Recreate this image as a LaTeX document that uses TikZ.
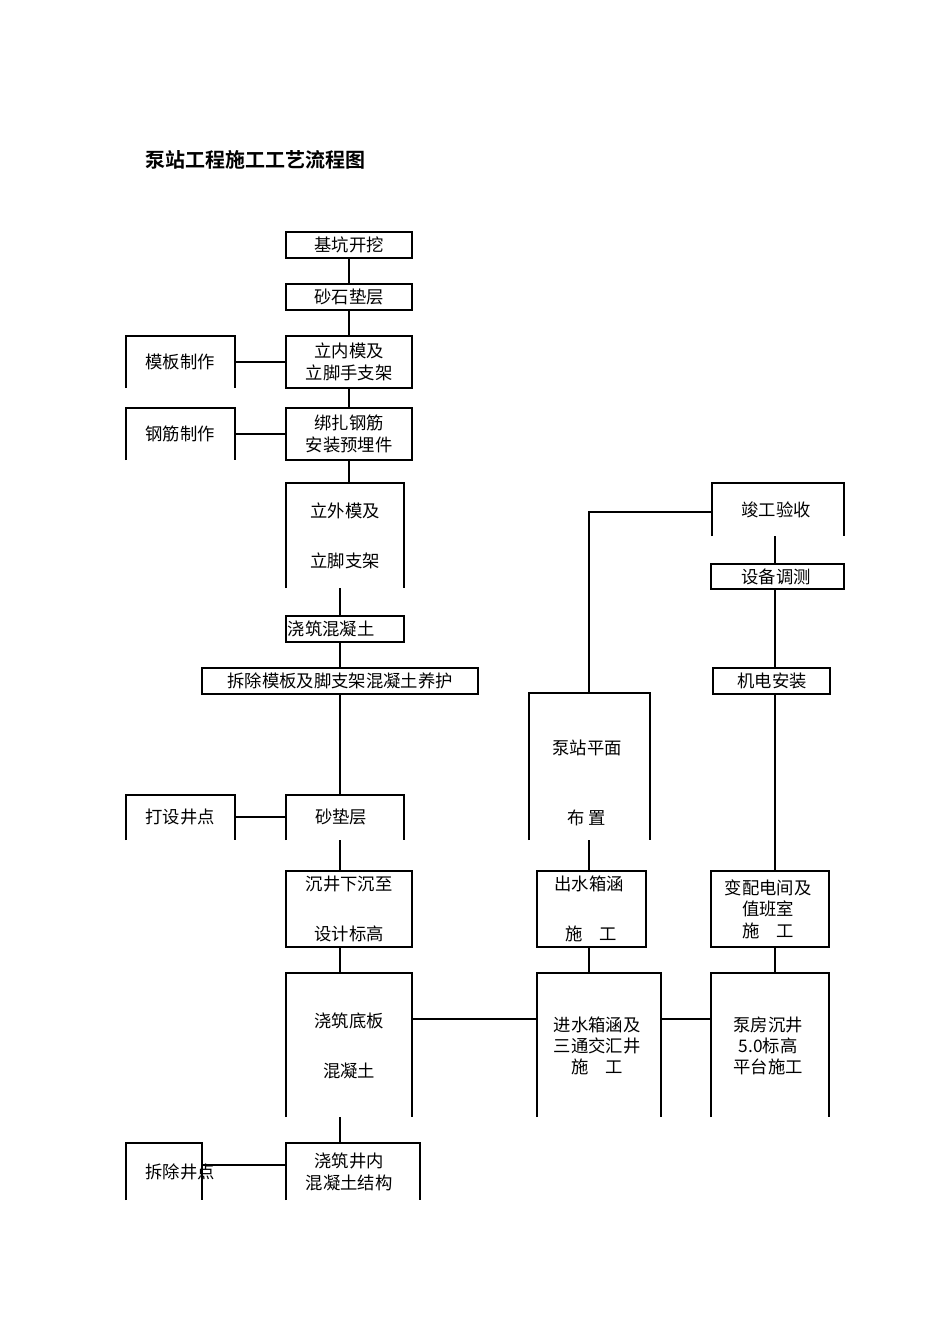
\documentclass[tikz,border=0pt]{standalone}
\usepackage{fontspec}
\setmainfont{Liberation Serif}
\newfontfamily\cjk{Noto Sans CJK SC}
\newfontfamily\cjkb{Noto Sans CJK SC Bold}
\newcommand\myopenbox[4]{\draw (#1,#4)--(#1,#2)--(#3,#2)--(#3,#4);}
\newcommand\myclosedbox[4]{\draw (#1,#2) rectangle (#3,#4);}
\tikzset{lbl/.style={font=\cjk\fontsize{13}{15}\selectfont,inner sep=0pt,align=center},
ln/.style={line width=0.8pt}}
\begin{document}
\begin{tikzpicture}[x=0.75pt,y=-0.75pt,line width=0.8pt]
\useasboundingbox (0,0) rectangle (950,1344);
\node[anchor=west,font=\cjkb\fontsize{15}{17}\selectfont,inner sep=0pt] (title) at (145,160) {泵站工程施工工艺流程图};
% closed boxes
\myclosedbox{286}{232}{412}{258}
\myclosedbox{286}{284}{412}{310}
\myclosedbox{286}{336}{412}{388}
\myclosedbox{286}{408}{412}{460}
\myclosedbox{286}{616}{404}{642}
\myclosedbox{202}{668}{478}{694}
\myclosedbox{286}{871}{412}{947}
\myclosedbox{537}{871}{646}{947}
\myclosedbox{711}{871}{829}{947}
\myclosedbox{711}{564}{844}{589}
\myclosedbox{713}{668}{830}{694}
% open boxes
\myopenbox{126}{336}{235}{388}
\myopenbox{126}{408}{235}{460}
\myopenbox{286}{483}{404}{588}
\myopenbox{126}{795}{235}{840}
\myopenbox{286}{795}{404}{840}
\myopenbox{529}{693}{650}{840}
\myopenbox{712}{483}{844}{536}
\myopenbox{286}{973}{412}{1117}
\myopenbox{537}{973}{661}{1117}
\myopenbox{711}{973}{829}{1117}
\myopenbox{126}{1143}{202}{1200}
\myopenbox{286}{1143}{420}{1200}
% labels
\node[lbl] (a1) at (349,245) {基坑开挖};
\node[lbl] (a2) at (349,297) {砂石垫层};
\node[lbl] (a3) at (349,362) {立内模及\\[1pt]立脚手支架};
\node[lbl] (m1) at (180,362) {模板制作};
\node[lbl] (a4) at (349,434) {绑扎钢筋\\[1pt]安装预埋件};
\node[lbl] (m2) at (180,434) {钢筋制作};
\node[lbl] (a5) at (345,511) {立外模及};
\node[lbl] (a5b) at (345,561) {立脚支架};
\node[lbl] (a6) at (331,629) {浇筑混凝土};
\node[lbl] (a7) at (340,681) {拆除模板及脚支架混凝土养护};
\node[lbl] (m3) at (180,817) {打设井点};
\node[lbl] (a8) at (341,817) {砂垫层};
\node[lbl] (a9) at (349,884) {沉井下沉至};
\node[lbl] (a9b) at (349,934) {设计标高};
\node[lbl] (a10) at (349,1021) {浇筑底板};
\node[lbl] (a10b) at (349,1071) {混凝土};
\node[lbl] (m4) at (180,1172) {拆除井点};
\node[lbl] (a11) at (349,1172) {浇筑井内\\[1pt]混凝土结构};
\node[lbl] (b1) at (587,748) {泵站平面};
\node[lbl] (b1b) at (587,818) {布 置};
\node[lbl] (b2) at (589,884) {出水箱涵};
\node[lbl] (b2b) at (591,934) {施\quad 工};
\node[lbl] (b3) at (597,1046) {进水箱涵及\\[1pt]三通交汇井\\[1pt]施\quad 工};
\node[lbl] (c1) at (776,510) {竣工验收};
\node[lbl] (c2) at (776,577) {设备调测};
\node[lbl] (c3) at (772,681) {机电安装};
\node[lbl] (c4) at (768,909) {变配电间及\\[1pt]值班室\\[1pt]施\quad 工};
\node[lbl] (c5) at (768,1046) {泵房沉井\\[1pt]5.0标高\\[1pt]平台施工};
% connectors
\draw (349,258)--(349,284) (349,310)--(349,336) (349,388)--(349,408) (349,460)--(349,483);
\draw (235,362)--(286,362) (235,434)--(286,434);
\draw (340,588)--(340,616) (340,642)--(340,668) (340,694)--(340,795);
\draw (235,817)--(286,817) (340,840)--(340,871) (340,947)--(340,973) (340,1117)--(340,1143);
\draw (202,1165)--(286,1165);
\draw (412,1019)--(537,1019) (661,1019)--(711,1019);
\draw (589,840)--(589,871) (589,947)--(589,973);
\draw (589,693)--(589,512)--(712,512);
\draw (775,536)--(775,564) (775,589)--(775,668) (775,694)--(775,871) (775,947)--(775,973);
\end{tikzpicture}
\end{document}
